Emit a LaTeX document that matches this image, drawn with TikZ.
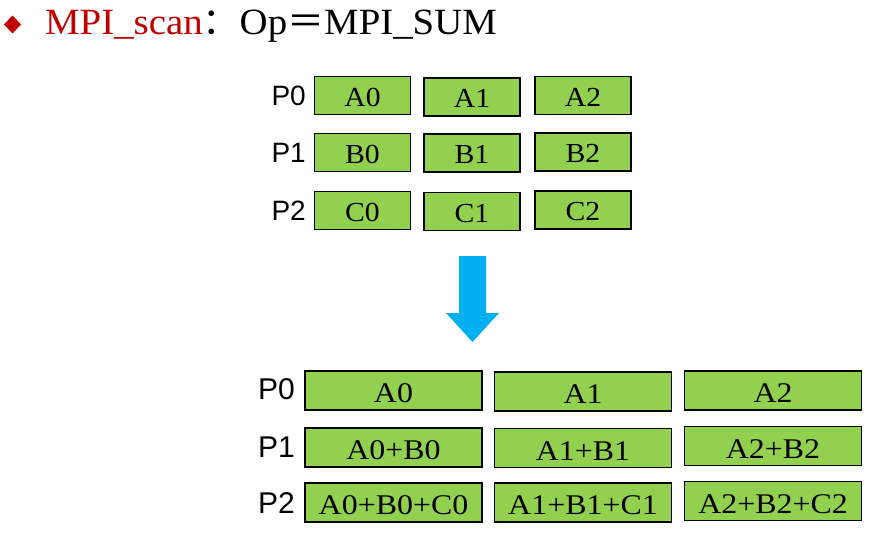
\documentclass[tikz,border=0pt]{standalone}
\usepackage{fontspec}
\newfontfamily\titlef{Liberation Serif}[FakeStretch=1.05]
\newfontfamily\boxf{Liberation Serif}[FakeStretch=1.08]
\newfontfamily\boxg{Liberation Serif}[FakeStretch=1.12]
\newfontfamily\labf{Liberation Sans}
\newfontfamily\cjk{Noto Sans CJK SC}
\definecolor{boxgreen}{HTML}{92D050}
\definecolor{arrowblue}{HTML}{00B0F0}
\definecolor{titlered}{HTML}{C00000}
\tikzset{
  cell/.style={draw=black, line width=1.5pt, fill=boxgreen, inner sep=0pt,
    text height=22pt, text depth=0pt, font=\boxf\fontsize{27.5}{30}\selectfont,
    minimum width=96pt, minimum height=38pt},
  wide/.style={cell, minimum width=177pt, minimum height=39pt, text height=24pt,
    font=\boxg\fontsize{28.5}{30}\selectfont},
  plab/.style={anchor=base east, inner sep=0pt, font=\labf\fontsize{28}{30}\selectfont},
  plabb/.style={plab, font=\labf\fontsize{30}{32}\selectfont},
}
\begin{document}
\begin{tikzpicture}[x=1pt,y=-1pt]
\useasboundingbox (0,0) rectangle (878,540);
% title
\fill[titlered] (12.5,15.5) -- (21,24.5) -- (12.5,33.5) -- (4,24.5) -- cycle;
\node[anchor=base west, inner sep=0pt, font=\titlef\fontsize{37}{40}\selectfont] (title) at (45,35)
  {{\color{titlered}MPI\_scan}{\cjk ：}Op{\cjk ＝}MPI\_SUM};
% top labels
\node[plab] (tp0) at (306,105.5) {P0};
\node[plab] (tp1) at (306,162.5) {P1};
\node[plab] (tp2) at (306,220.5) {P2};
% top cells
\node[cell] (a0) at (362.5,95.5) {A0};
\node[cell] (a1) at (472,97) {A1};
\node[cell] (a2) at (583,95.5) {A2};
\node[cell] (b0) at (362.5,152.5) {B0};
\node[cell] (b1) at (472,153) {B1};
\node[cell] (b2) at (583,152) {B2};
\node[cell] (c0) at (362.5,210.5) {C0};
\node[cell] (c1) at (472,211.5) {C1};
\node[cell] (c2) at (583,210) {C2};
% arrow
\fill[arrowblue] (459,256) -- (486,256) -- (486,313) -- (499,313) -- (472.5,342) -- (446,313) -- (459,313) -- cycle;
% bottom labels
\node[plabb] (bp0) at (295,399) {P0};
\node[plabb] (bp1) at (295,457) {P1};
\node[plabb] (bp2) at (295,513) {P2};
% bottom cells
\node[wide] (r00) at (393.5,390.5) {A0};
\node[wide] (r01) at (583,391.5) {A1};
\node[wide] (r02) at (773,390.5) {A2};
\node[wide] (r10) at (393.5,447.5) {A0+B0};
\node[wide] (r11) at (583,448) {A1+B1};
\node[wide] (r12) at (773,446) {A2+B2};
\node[wide] (r20) at (393.5,502.5) {A0+B0+C0};
\node[wide] (r21) at (583,502.5) {A1+B1+C1};
\node[wide] (r22) at (773,501) {A2+B2+C2};
\end{tikzpicture}
\end{document}
